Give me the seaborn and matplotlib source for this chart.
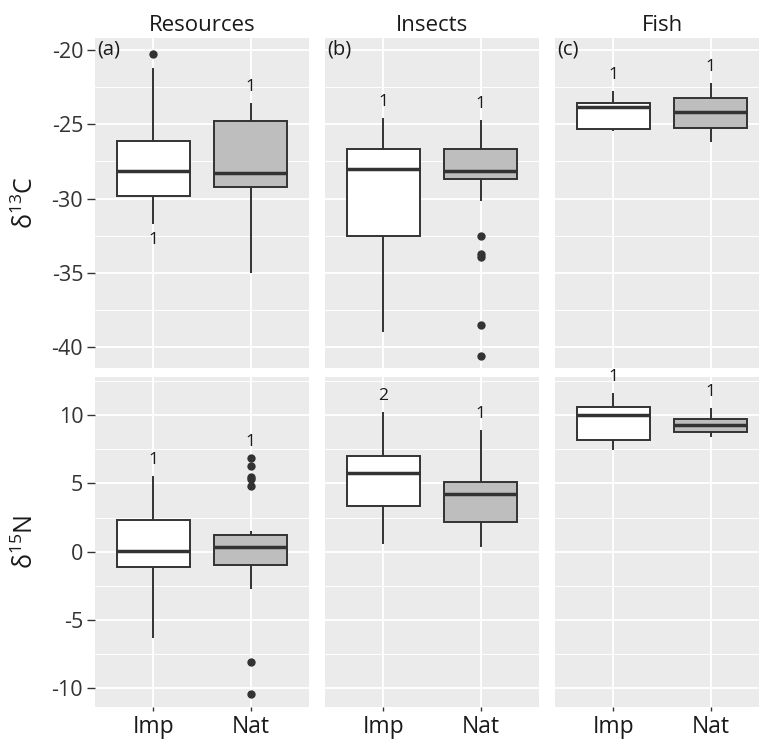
import numpy as np
import pandas as pd
import matplotlib
matplotlib.use("Agg")
import matplotlib.pyplot as plt
from matplotlib.ticker import MultipleLocator
import seaborn as sns

groups = ["Resources", "Insects", "Fish"]
origins = ["Imp", "Nat"]
panel_tags = ["(a)", "(b)", "(c)"]
isotopes = ["d13C", "d15N"]
iso_labels = ["δ$^{13}$C", "δ$^{15}$N"]

# lower whisker, Q1, median, Q3, upper whisker -- one row per group
c13_imp = [[-31.7, -29.8, -28.15, -26.1, -21.25],
           [-39.0, -32.5, -28.0, -26.7, -24.6],
           [-25.45, -25.35, -23.85, -23.6, -22.75]]
c13_nat = [[-35.0, -29.25, -28.3, -24.8, -23.6],
           [-30.15, -28.7, -28.15, -26.7, -24.7],
           [-26.2, -25.25, -24.15, -23.25, -22.2]]
n15_imp = [[-6.3, -1.15, 0.05, 2.3, 5.55],
           [0.55, 3.35, 5.75, 7.05, 10.25],
           [7.45, 8.15, 10.05, 10.6, 11.65]]
n15_nat = [[-2.7, -0.95, 0.35, 1.25, 1.55],
           [0.35, 2.2, 4.2, 5.1, 8.95],
           [8.4, 8.8, 9.25, 9.7, 10.5]]

# outlying points
c13_out_imp = [[-20.3], [], []]
c13_out_nat = [[], [-32.5, -33.7, -33.95, -38.5, -40.6], []]
n15_out_imp = [[], [], []]
n15_out_nat = [[6.9, 6.3, 5.45, 5.3, 4.85, -8.1, -10.4], [], []]

# small count labels next to each box
c13_text = [["1", "1"], ["1", "1"], ["1", "1"]]
c13_side = [["below", "above"], ["above", "above"], ["above", "above"]]
n15_text = [["1", "1"], ["2", "1"], ["1", "1"]]
n15_side = [["above", "above"], ["above", "above"], ["above", "above"]]

c13_ticks = [-40, -35, -30, -25, -20]
n15_ticks = [-10, -5, 0, 5, 10]
c13_lim = (-41.4, -19.2)
n15_lim = (-11.37, 12.8)


def long_table(iso, imp, nat):
    rows = []
    for g, a, b in zip(groups, imp, nat):
        rows += [(iso, g, "Imp", v) for v in a]
        rows += [(iso, g, "Nat", v) for v in b]
    return rows


boxes = pd.DataFrame(long_table("d13C", c13_imp, c13_nat) + long_table("d15N", n15_imp, n15_nat),
                     columns=["isotope", "group", "origin", "value"])
outs = pd.DataFrame(long_table("d13C", c13_out_imp, c13_out_nat) + long_table("d15N", n15_out_imp, n15_out_nat),
                    columns=["isotope", "group", "origin", "value"])

texts = {"d13C": (c13_text, c13_side), "d15N": (n15_text, n15_side)}
ticks = {"d13C": c13_ticks, "d15N": n15_ticks}
lims = {"d13C": c13_lim, "d15N": n15_lim}

sns.set_theme(style="white")
plt.rcParams["font.family"] = ["Open Sans", "DejaVu Sans"]
plt.rcParams["mathtext.fontset"] = "custom"
plt.rcParams["mathtext.rm"] = "Open Sans"
plt.rcParams["mathtext.it"] = "Open Sans"
plt.rcParams["axes.unicode_minus"] = False

W, H = 759, 742
fig, axes = plt.subplots(2, 3, figsize=(W / 100, H / 100), dpi=100)

col_x = [95, 325, 555]
row_top = [38, 377]
pw, ph = 214, 330
palette = {"Imp": "white", "Nat": "#BEBEBE"}
dark = "#333333"

for r, iso in enumerate(isotopes):
    for c, g in enumerate(groups):
        ax = axes[r, c]
        ax.set_position([col_x[c] / W, 1 - (row_top[r] + ph) / H, pw / W, ph / H])
        ax.set_facecolor("#EBEBEB")
        sub = boxes[(boxes.isotope == iso) & (boxes.group == g)]
        sns.boxplot(data=sub, x="origin", y="value", hue="origin", order=origins,
                    palette=palette, saturation=1, whis=(0, 100), width=0.75,
                    linecolor=dark, linewidth=1.4, showcaps=False, showfliers=False,
                    medianprops=dict(linewidth=2.5, color=dark), legend=False, ax=ax, zorder=2)
        sub_out = outs[(outs.isotope == iso) & (outs.group == g)]
        if len(sub_out):
            sns.stripplot(data=sub_out, x="origin", y="value", order=origins, jitter=False,
                          color=dark, size=6, linewidth=0, ax=ax, zorder=3)

        # count labels
        lab, side = texts[iso]
        for k, o in enumerate(origins):
            vals = list(sub[sub.origin == o].value) + list(sub_out[sub_out.origin == o].value)
            if side[c][k] == "above":
                y, dy = max(vals), 11.5
            else:
                y, dy = min(vals), -11.5
            ax.annotate(lab[c][k], (k, y), xytext=(0, dy), textcoords="offset points",
                        ha="center", va="center", fontsize=12.5, color="#1a1a1a")

        ax.set_xlim(-0.6, 1.6)
        ax.set_ylim(*lims[iso])
        ax.set_xticks([0, 1], labels=origins)
        ax.set_yticks(ticks[iso], labels=[str(t) for t in ticks[iso]])
        ax.yaxis.set_minor_locator(MultipleLocator(2.5))
        ax.grid(True, which="major", color="white", linewidth=1.3, zorder=0)
        ax.grid(True, which="minor", axis="y", color="white", linewidth=0.7, zorder=0)
        ax.set_axisbelow(True)
        for s in ax.spines.values():
            s.set_visible(False)
        ax.set_xlabel("")
        ax.set_ylabel("")
        ax.tick_params(which="minor", length=0)
        ax.tick_params(axis="y", which="major", length=5.5, width=1, color=dark,
                       labelsize=15.5, labelcolor=dark, pad=3, left=(c == 0), labelleft=(c == 0))
        ax.tick_params(axis="x", which="major", length=3.2, width=1, color=dark,
                       labelsize=16.5, labelcolor="#1a1a1a", pad=2.5,
                       bottom=(r == 1), labelbottom=(r == 1))
        if r == 0:
            ax.set_title(g, fontsize=16, color="#1a1a1a", pad=5)
            ax.text(0.012, 0.964, panel_tags[c], transform=ax.transAxes,
                    ha="left", va="center", fontsize=14.5, color="#1a1a1a")

    fig.text(26 / W, 1 - (row_top[r] + ph / 2) / H, iso_labels[r], rotation=90,
             ha="center", va="center", fontsize=18, color="#1a1a1a")

fig.savefig("out.png", dpi=100)
